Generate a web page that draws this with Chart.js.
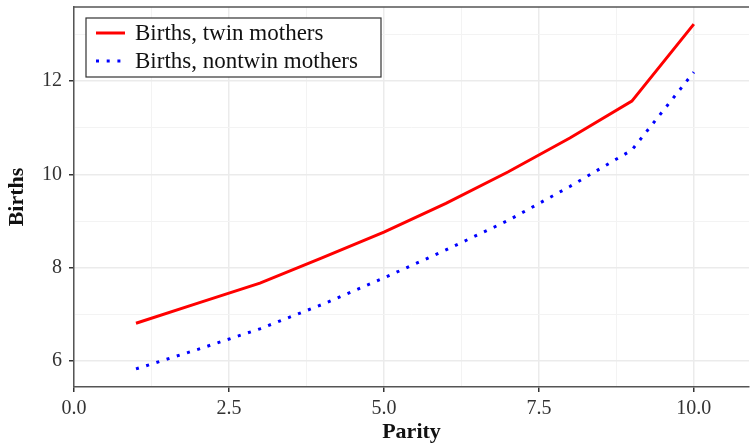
<!DOCTYPE html>
<html><head><meta charset="utf-8">
<script src="https://cdn.jsdelivr.net/npm/chart.js@4.4.1/dist/chart.umd.min.js"></script>
<style>html,body{margin:0;padding:0;background:#fff}#wrap{width:750px;height:446px}</style>
</head><body><div id="wrap"><canvas id="c" width="750" height="446"></canvas></div>
<script>
const parity = [1,2,3,4,5,6,7,8,9,10];
const twinBirths = [6.81,7.24,7.67,8.21,8.76,9.38,10.05,10.78,11.57,13.22];
const nontwinBirths = [5.83,6.25,6.69,7.21,7.78,8.38,9.01,9.74,10.52,12.19];
const seriesNames = ['Births, twin mothers','Births, nontwin mothers'];
const xMajorTicks = [0,2.5,5,7.5,10];
const yMajorTicks = [6,8,10,12];

const FONT = "'Liberation Serif', 'DejaVu Serif', serif";
const toPts = (xs, ys) => xs.map((x,i)=>({x:x,y:ys[i]}));

const frame = {
  id:'frame',
  afterDraw(chart){
    const {ctx, chartArea:a} = chart;
    ctx.save();
    ctx.strokeStyle = '#555'; ctx.lineWidth = 1.5;
    ctx.beginPath(); ctx.moveTo(a.left, a.top); ctx.lineTo(a.right, a.top); ctx.stroke();
    // legend
    const lx = 86, ly = 18, lw = 295, lh = 59;
    ctx.fillStyle = '#fff'; ctx.fillRect(lx, ly, lw, lh);
    ctx.strokeStyle = '#333'; ctx.lineWidth = 1.2; ctx.strokeRect(lx, ly, lw, lh);
    ctx.font = '23px ' + FONT; ctx.textBaseline = 'middle'; ctx.fillStyle = '#111';
    const ds = chart.data.datasets;
    [33, 61].forEach((yy, i) => {
      ctx.strokeStyle = ds[i].borderColor; ctx.lineWidth = 3;
      ctx.setLineDash(ds[i].borderDash || []);
      ctx.beginPath(); ctx.moveTo(96, yy); ctx.lineTo(125, yy); ctx.stroke();
      ctx.setLineDash([]);
      ctx.fillText(ds[i].label, 135, yy + 1);
    });
    ctx.restore();
  }
};

new Chart(document.getElementById('c'), {
  type: 'line',
  data: {
    datasets: [
      {label: seriesNames[0], data: toPts(parity, twinBirths), borderColor: '#ff0000', borderWidth: 3, pointRadius: 0, tension: 0, fill: false},
      {label: seriesNames[1], data: toPts(parity, nontwinBirths), borderColor: '#0000ff', borderWidth: 3, borderDash: [3, 7.7], borderCapStyle: 'butt', pointRadius: 0, tension: 0, fill: false}
    ]
  },
  plugins: [frame],
  options: {
    responsive: false, animation: false, devicePixelRatio: 1,
    layout: {padding: {top: 7, right: 1, left: 0, bottom: 0}},
    plugins: {legend: {display: false}, tooltip: {enabled: false}},
    scales: {
      x: {
        type: 'linear', min: 0, max: 10.89,
        afterBuildTicks(s){ s.ticks = [0,1.25,2.5,3.75,5,6.25,7.5,8.75,10].map(v=>({value:v})); },
        afterFit(s){ s.height = 59; s.paddingLeft = 0; s.paddingRight = 0; },
        ticks: {
          autoSkip: false, maxRotation: 0, padding: 5,
          font: {family: FONT, size: 20}, color: '#333',
          callback: v => xMajorTicks.includes(v) ? v.toFixed(1) : ''
        },
        grid: {
          color: ctx => (ctx.tick && xMajorTicks.includes(ctx.tick.value)) ? '#ebebeb' : '#f3f3f3',
          lineWidth: ctx => (ctx.tick && xMajorTicks.includes(ctx.tick.value)) ? 1.5 : 1,
          tickColor: ctx => (ctx.tick && xMajorTicks.includes(ctx.tick.value)) ? '#333' : 'rgba(0,0,0,0)',
          tickLength: 5, drawOnChartArea: true
        },
        border: {display: true, color: '#555', width: 1.5},
        title: {display: true, text: 'Parity', font: {family: FONT, size: 22, weight: 'bold'}, color: '#111', padding: {top: 0, bottom: 0}}
      },
      y: {
        type: 'linear', min: 5.443, max: 13.586,
        afterBuildTicks(s){ s.ticks = [6,7,8,9,10,11,12,13].map(v=>({value:v})); },
        afterFit(s){ s.width = 74; s.paddingTop = 0; s.paddingBottom = 0; },
        ticks: {
          autoSkip: false, padding: 7,
          font: {family: FONT, size: 20}, color: '#333',
          callback: v => yMajorTicks.includes(v) ? String(v) : ''
        },
        grid: {
          color: ctx => (ctx.tick && yMajorTicks.includes(ctx.tick.value)) ? '#ebebeb' : '#f3f3f3',
          lineWidth: ctx => (ctx.tick && yMajorTicks.includes(ctx.tick.value)) ? 1.5 : 1,
          tickColor: ctx => (ctx.tick && yMajorTicks.includes(ctx.tick.value)) ? '#333' : 'rgba(0,0,0,0)',
          tickLength: 5
        },
        border: {display: true, color: '#555', width: 1.5},
        title: {display: true, text: 'Births', font: {family: FONT, size: 22, weight: 'bold'}, color: '#111', padding: {top: 4, bottom: 6}}
      }
    }
  }
});
</script></body></html>
